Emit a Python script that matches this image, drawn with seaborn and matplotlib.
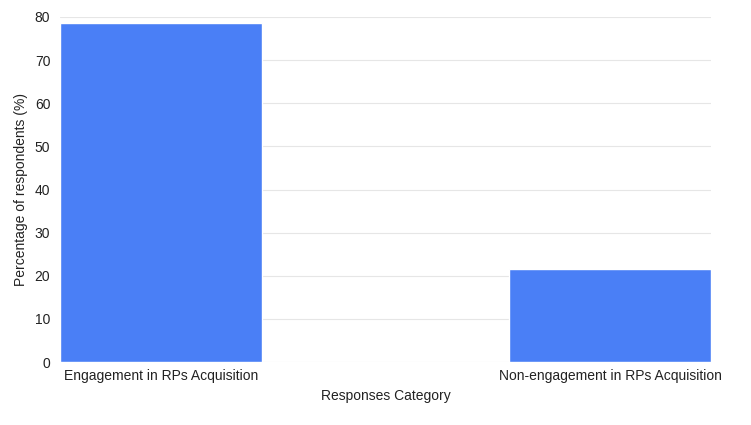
import matplotlib
matplotlib.use("Agg")
import matplotlib.pyplot as plt
import seaborn as sns
import pandas as pd

categories = ["Engagement in RPs Acquisition", "Non-engagement in RPs Acquisition"]
values = [78.5, 21.5]
yticks = [0, 10, 20, 30, 40, 50, 60, 70, 80]

sns.set_theme(style="white")
plt.rcParams['font.family'] = ['Liberation Sans', 'DejaVu Sans']

df = pd.DataFrame({"cat": categories, "val": values})
fig = plt.figure(figsize=(7.51, 4.25), dpi=100)
ax = fig.add_axes([0.0799, 0.148, 0.867, 0.812])
w = 0.45
sns.barplot(data=df, x="cat", y="val", color="#4a7ff6", width=w, saturation=1, ax=ax, zorder=3)
ax.set_xlim(-w / 2, 1 + w / 2)
ax.set_ylim(0, 80)
ax.set_yticks(yticks)
ax.yaxis.grid(True, color="#e6e6e6", linewidth=0.8, zorder=0)
ax.set_axisbelow(True)
for s in ax.spines.values():
    s.set_visible(False)
ax.tick_params(axis="y", length=0, labelsize=10, colors="#222222", pad=7)
ax.tick_params(axis="x", length=0, labelsize=10, colors="#222222", pad=5)
ax.set_xlabel("Responses Category", fontsize=10, color="#222222", labelpad=4.5)
ax.set_ylabel("Percentage of respondents (%)", fontsize=10, color="#222222", labelpad=4.5)
fig.savefig("out.png", dpi=100)
